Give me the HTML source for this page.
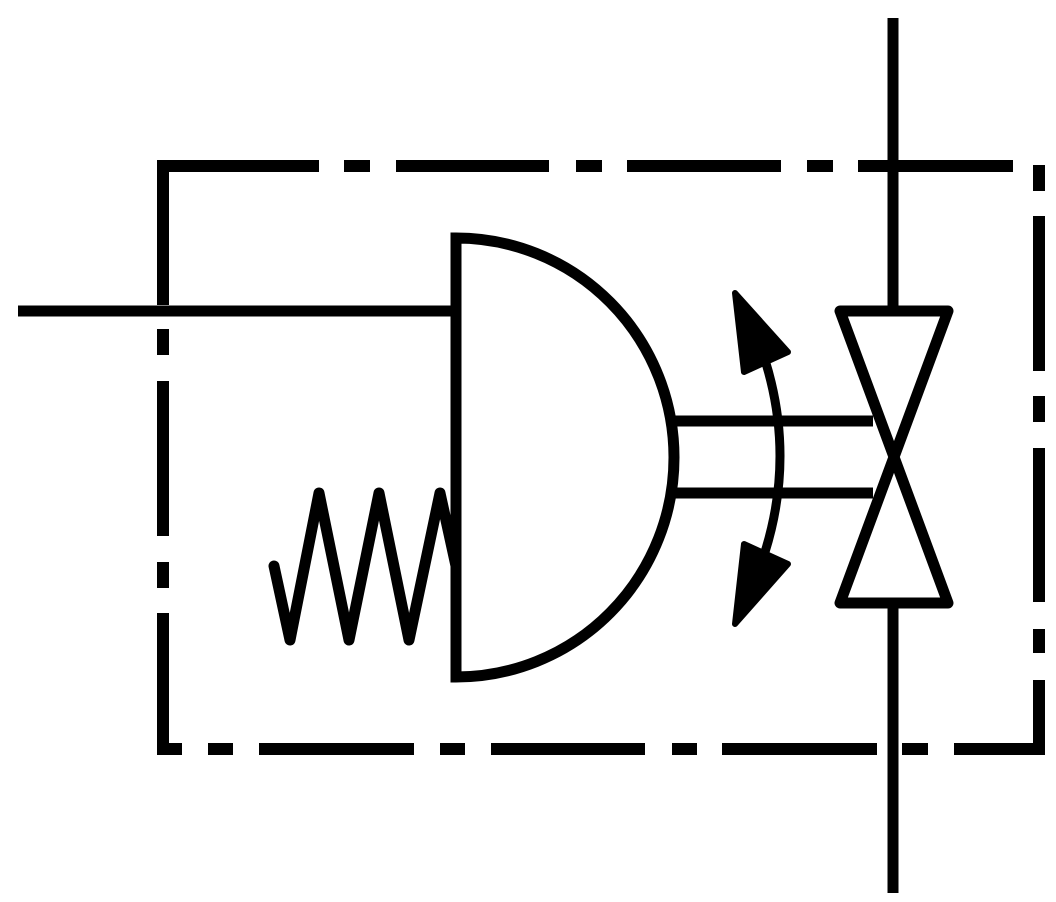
<!DOCTYPE html>
<html><head><style>html,body{margin:0;padding:0;background:#fff}svg{display:block}</style></head>
<body>
<svg width="1056" height="902" viewBox="0 0 1056 902" xmlns="http://www.w3.org/2000/svg">
<g stroke="#000" stroke-width="12" fill="none">
<path d="M157 166H319M344 166H370M396 166H549M576 166H602M627 166H781M807 166H833M858 166H1013"/>
<path d="M163 160V305M163 329V355M163 381V536M163 562V588M163 613V755"/>
<path d="M157 749H182M208 749H233M259 749H414M440 749H465M491 749H645M672 749H697M722 749H877M902 749H928M954 749H1045"/>
<path d="M1039 165V191M1039 216V371M1039 396V422M1039 448V602M1039 629V653M1039 680V755"/>
</g>
<g stroke="#000" stroke-width="11" fill="none" stroke-linejoin="round" stroke-linecap="round">
<path d="M18 311H456" stroke-linecap="butt"/>
<path d="M893 18V311M893 603V893" stroke-linecap="butt"/>
<path d="M456 677V238A218 219.5 0 0 1 456 677Z" stroke-linejoin="miter"/>
<path d="M673 421H873M673 493H873" stroke-linecap="butt"/>
<path d="M840 311H948L840 603H948Z"/>
<path d="M274 566L290 640L319 493L349 640L379 493L409 640L440 493L456 566"/>
<path d="M765 360Q795 456 765 552" stroke-width="9"/>
</g>
<g fill="#000" stroke="#000" stroke-width="6" stroke-linejoin="round">
<path d="M735 293L788 352L744 372Z"/>
<path d="M735 624L788 564L744 544Z"/>
</g>
</svg>
</body></html>
